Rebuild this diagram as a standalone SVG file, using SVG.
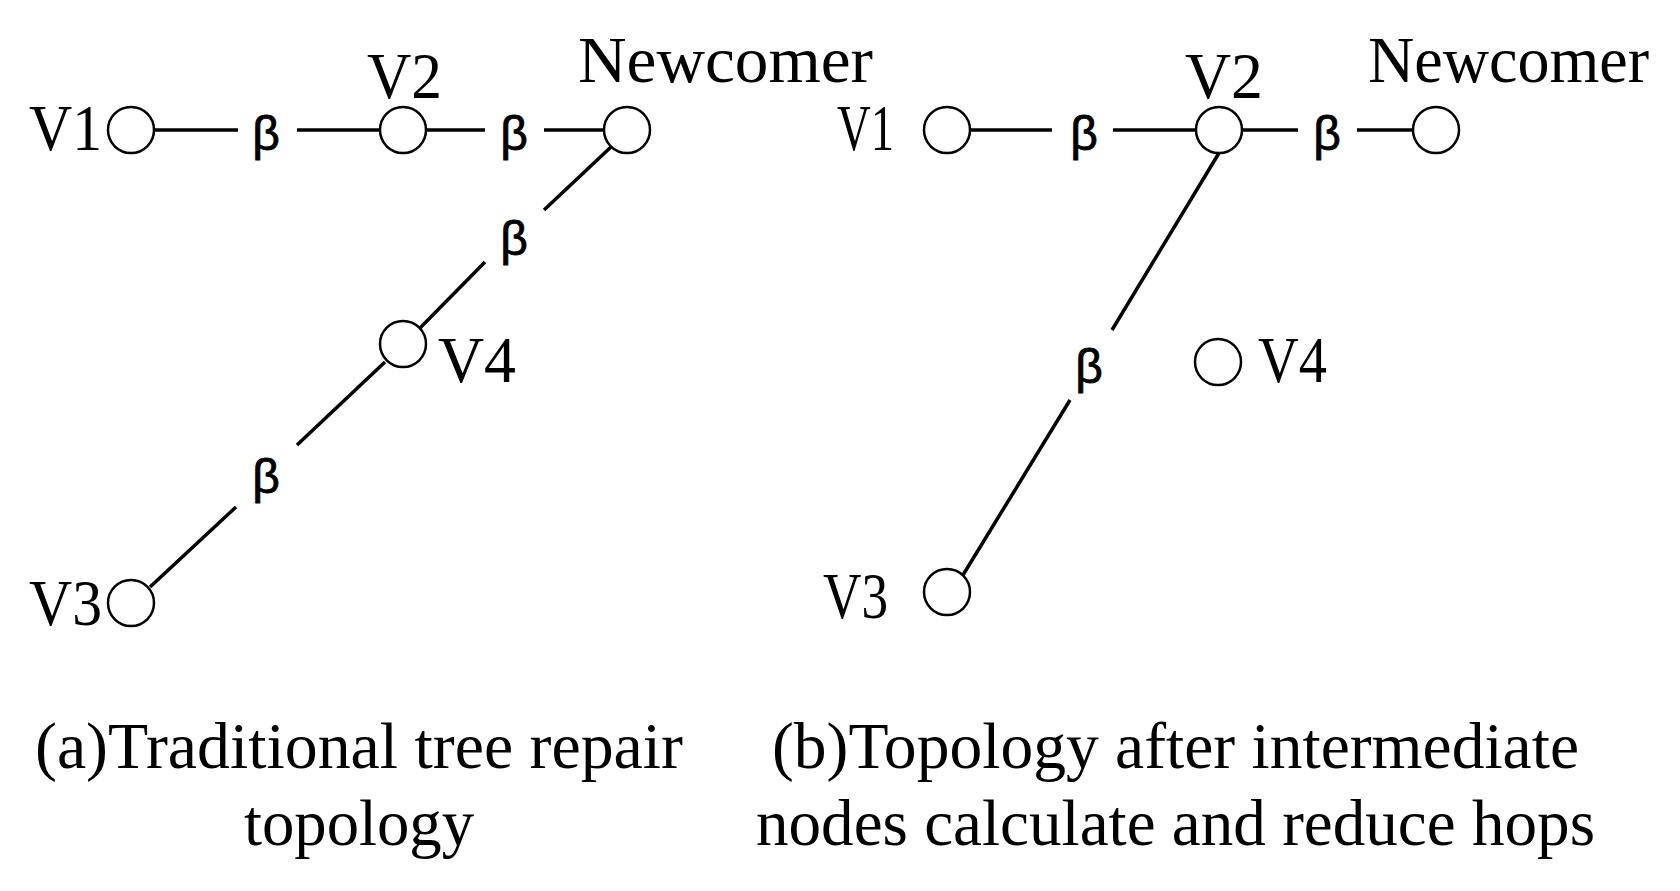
<svg xmlns="http://www.w3.org/2000/svg" width="1680" height="891" viewBox="0 0 1680 891">
<style>
.n{fill:#fff;stroke:#000;stroke-width:2.5}
.e{stroke:#000;stroke-width:3.5;fill:none}
.t{font-family:"Liberation Serif","Times New Roman",serif;font-size:66px;fill:#000}
.b{font-family:"Liberation Sans",Arial,sans-serif;font-size:48px;fill:#000;stroke:#000;stroke-width:0.8;text-anchor:middle}
</style>
<rect width="1680" height="891" fill="#fff"/>
<g id="connectors">
<line class="e" x1="155" y1="130" x2="238" y2="130"/>
<line class="e" x1="297" y1="130" x2="380" y2="130"/>
<line class="e" x1="426" y1="130" x2="485" y2="130"/>
<line class="e" x1="544" y1="130" x2="604" y2="130"/>
<line class="e" x1="611" y1="147" x2="544" y2="210"/>
<line class="e" x1="485" y1="262" x2="420" y2="328"/>
<line class="e" x1="385" y1="362" x2="297" y2="445"/>
<line class="e" x1="236" y1="507" x2="150" y2="587"/>
<line class="e" x1="970" y1="130" x2="1052" y2="130"/>
<line class="e" x1="1113" y1="130" x2="1196" y2="130"/>
<line class="e" x1="1242" y1="130" x2="1298" y2="130"/>
<line class="e" x1="1357" y1="130" x2="1413" y2="130"/>
<line class="e" x1="1219" y1="153" x2="1112" y2="330"/>
<line class="e" x1="1070" y1="400" x2="963" y2="575"/>
<text class="b" x="266" y="150">β</text>
<text class="b" x="514" y="150">β</text>
<text class="b" x="514" y="255">β</text>
<text class="b" x="266" y="493">β</text>
<text class="b" x="1084" y="150">β</text>
<text class="b" x="1327" y="150">β</text>
<text class="b" x="1089" y="383">β</text>
</g>
<g id="a-V1"><circle class="n" cx="131" cy="130" r="23"/><text class="t" x="29" y="150" textLength="73" lengthAdjust="spacingAndGlyphs">V1</text></g>
<g id="a-V2"><circle class="n" cx="403" cy="130" r="23"/><text class="t" x="367" y="98" textLength="75" lengthAdjust="spacingAndGlyphs">V2</text></g>
<g id="a-Newcomer"><circle class="n" cx="627" cy="130" r="23"/><text class="t" x="578" y="82" textLength="295" lengthAdjust="spacingAndGlyphs">Newcomer</text></g>
<g id="a-V4"><circle class="n" cx="403" cy="344" r="23"/><text class="t" x="438" y="382" textLength="78" lengthAdjust="spacingAndGlyphs">V4</text></g>
<g id="a-V3"><circle class="n" cx="131" cy="603" r="23"/><text class="t" x="29" y="625" textLength="73" lengthAdjust="spacingAndGlyphs">V3</text></g>
<g id="b-V1"><circle class="n" cx="947" cy="130" r="23"/><text class="t" x="837" y="150" textLength="57" lengthAdjust="spacingAndGlyphs">V1</text></g>
<g id="b-V2"><circle class="n" cx="1219" cy="130" r="23"/><text class="t" x="1185" y="98" textLength="78" lengthAdjust="spacingAndGlyphs">V2</text></g>
<g id="b-Newcomer"><circle class="n" cx="1436" cy="130" r="23"/><text class="t" x="1368" y="82" textLength="281" lengthAdjust="spacingAndGlyphs">Newcomer</text></g>
<g id="b-V4"><circle class="n" cx="1218" cy="362" r="23"/><text class="t" x="1258" y="382" textLength="69" lengthAdjust="spacingAndGlyphs">V4</text></g>
<g id="b-V3"><circle class="n" cx="947" cy="592" r="23"/><text class="t" x="823" y="618" textLength="65" lengthAdjust="spacingAndGlyphs">V3</text></g>
<g id="captions">
<text class="t" x="35" y="768" textLength="648" lengthAdjust="spacingAndGlyphs">(a)Traditional tree repair</text>
<text class="t" x="244" y="845" textLength="230" lengthAdjust="spacingAndGlyphs">topology</text>
<text class="t" x="772" y="768" textLength="807" lengthAdjust="spacingAndGlyphs">(b)Topology after intermediate</text>
<text class="t" x="756" y="845" textLength="839" lengthAdjust="spacingAndGlyphs">nodes calculate and reduce hops</text>
</g>
</svg>
